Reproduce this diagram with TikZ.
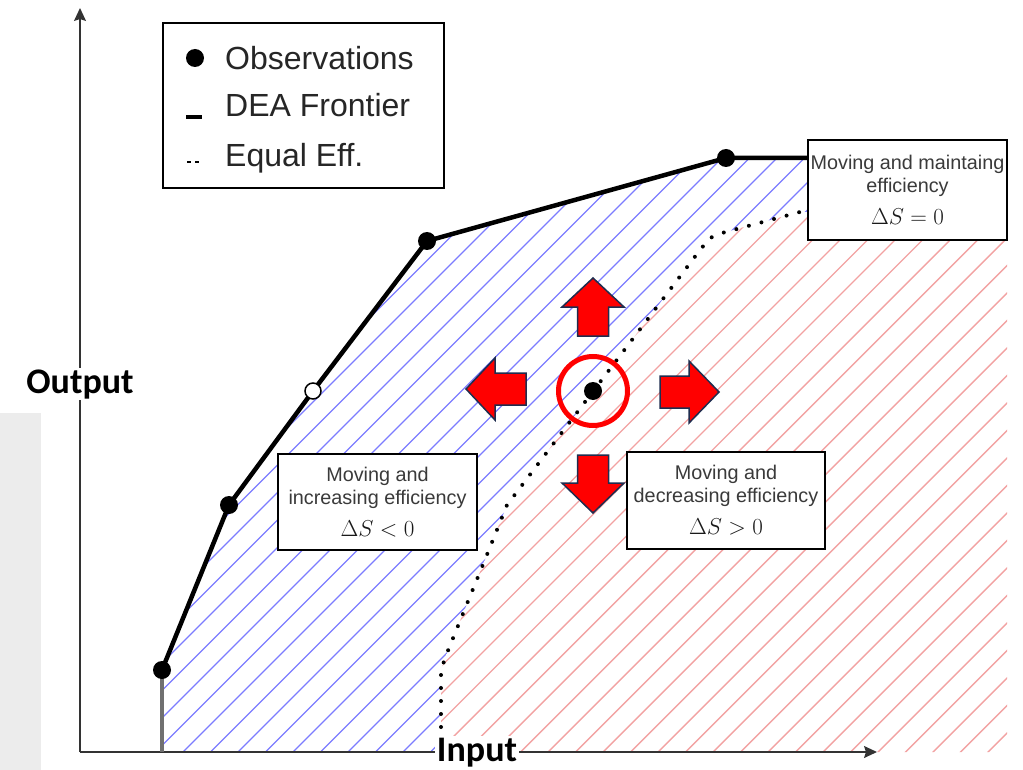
\RequirePackage{fix-cm}
\documentclass[tikz,border=0pt]{standalone}
\usepackage{fontspec}
\setmainfont{Liberation Sans}
\newfontfamily\labfont{Carlito}
\usetikzlibrary{arrows.meta}
\definecolor{navy}{HTML}{1F2D4F}
\definecolor{panelgray}{HTML}{ECECEC}
\definecolor{hatchblue}{HTML}{7C7CFF}
\definecolor{hatchred}{HTML}{F2A2A2}
\definecolor{boxtext}{HTML}{3A3A3A}
\definecolor{axisgray}{HTML}{333333}
\definecolor{stemgray}{HTML}{707070}
\newcommand{\mathline}[1]{{\fontsize{23}{26}\selectfont\color{black!90}$#1$}}
\begin{document}
\begin{tikzpicture}[x=1pt,y=-1pt,
  obs/.style={circle,fill=black,inner sep=0pt,minimum size=18pt},
  openobs/.style={circle,fill=white,draw=black,line width=1.5pt,inner sep=0pt,minimum size=16pt},
  frontier/.style={line width=4.5pt,black,line join=round},
  dotline/.style={line width=4pt,line cap=round,dash pattern=on 0pt off 13pt},
  axisline/.style={line width=1.5pt,axisgray,-{Stealth[length=13pt,width=12pt,inset=2pt]}},
  infobox/.style={draw=black,fill=white,line width=1.2pt,align=center,inner sep=0pt,
    text=boxtext,font=\fontsize{19.8}{23}\selectfont},
  legtext/.style={inner sep=0pt,anchor=base west,font=\fontsize{32}{38}\selectfont,text=black!85},
  axlabel/.style={fill=white,inner sep=1.5pt,anchor=base,font=\labfont\bfseries\fontsize{36}{40}\selectfont},
  bluehatch/.style={hatchblue,line width=1.4pt},
  redhatch/.style={hatchred,line width=1.4pt},
  blockarrow/.style={fill=red,draw=navy,line width=1.5pt,line join=miter}
]
\useasboundingbox (0,0) rectangle (1023,770);
% grey side panel
\fill[panelgray] (0,413) rectangle (41,770);

% hatched regions
\begin{scope}
\clip (162,752) -- (162,670) -- (229,505) -- (313,391) -- (427,241) -- (726,158) -- (808,158) -- (808,212) -- (800,212) -- (722,233) -- (710,238) -- (700,250) -- (507,505) -- (482,567) -- (462,616) -- (447,653) -- (441,670) -- (441,752) -- cycle;
\foreach \c in {330,357.5,...,1570} {\draw[bluehatch] (\c-800,800) -- (\c,0);}
\end{scope}
\begin{scope}
\clip (441,752) -- (441,670) -- (447,653) -- (462,616) -- (482,567) -- (507,505) -- (700,250) -- (710,238) -- (722,233) -- (800,212) -- (1007,212) -- (1007,752) -- cycle;
\foreach \c in {640,667.5,...,1790} {\draw[redhatch] (\c-800,800) -- (\c,0);}
\end{scope}

% axes
\coordinate (origin) at (80,752);
\coordinate (ytip) at (80,8);
\coordinate (xtip) at (877,752);
\draw[axisline] (origin) -- (ytip);
\draw[axisline] (origin) -- (xtip);

% equal efficiency curve
\coordinate (e0) at (441,740);
\coordinate (e1) at (800,212);
\draw[dotline] (e0) -- (441,670) -- (447,653) -- (462,616) -- (482,567) -- (507,505) -- (700,250) -- (710,238) -- (722,233) -- (e1);

% frontier
\coordinate (p1) at (162,670);
\coordinate (p2) at (229,505);
\coordinate (p3) at (313,391);
\coordinate (p4) at (427,241);
\coordinate (p5) at (726,158);
\draw[stemgray,line width=4pt] (p1) -- (p1 |- origin);

% boxes
\node[infobox,minimum width=199pt,minimum height=100pt] (mbox) at (907.5,190)
  {Moving and maintaing\\efficiency\\[9pt]\mathline{\Delta S=0}};
\node[infobox,minimum width=199pt,minimum height=96pt] (ibox) at (377.5,502)
  {Moving and\\increasing efficiency\\[9pt]\mathline{\Delta S<0}};
\node[infobox,minimum width=198pt,minimum height=97pt] (dbox) at (726,500.5)
  {Moving and\\decreasing efficiency\\[9pt]\mathline{\Delta S>0}};

\draw[frontier] (p1) -- (p2) -- (p3) -- (p4) -- (p5) -- (p5 -| mbox.west);
\node[obs] (o1) at (p1) {};
\node[obs] (o2) at (p2) {};
\node[openobs] (o3) at (p3) {};
\node[obs] (o4) at (p4) {};
\node[obs] (o5) at (p5) {};

% legend
\node[draw=black,fill=white,line width=1.2pt,minimum width=281pt,minimum height=165pt,inner sep=0pt] (legend) at (303.5,105.5) {};
\node[obs] (legdot) at (195,58) {};
\node[fill=black,minimum width=16pt,minimum height=4.5pt,inner sep=0pt] (legbar) at (194,117) {};
\draw[line width=1.5pt] (187,162) -- (191,162) (195,162) -- (199,162);
\node[legtext] (legobs) at (225,70) {Observations};
\node[legtext] (legdea) at (225,117) {DEA Frontier};
\node[legtext] (legeq) at (225,167) {Equal Eff.};

% focus observation and movement arrows
\node[circle,draw=red,line width=5pt,minimum size=69pt,inner sep=0pt] (focus) at (593,391) {};
\node[obs] (fdot) at (593,391) {};
\draw[blockarrow] (593,278) -- (624,307) -- (608.5,307) -- (608.5,336) -- (577.5,336) -- (577.5,307) -- (562,307) -- cycle;
\draw[blockarrow] (593,513) -- (624,483) -- (608.5,483) -- (608.5,455) -- (577.5,455) -- (577.5,483) -- (562,483) -- cycle;
\draw[blockarrow] (466,389) -- (495,358) -- (495,373) -- (526,373) -- (526,405) -- (495,405) -- (495,420) -- cycle;
\draw[blockarrow] (719,392) -- (689,361) -- (689,376) -- (660,376) -- (660,408) -- (689,408) -- (689,423) -- cycle;

% axis labels
\node[axlabel] (ylab) at (80,393) {Output};
\node[axlabel] (xlab) at (477,761) {Input};
\end{tikzpicture}
\end{document}
